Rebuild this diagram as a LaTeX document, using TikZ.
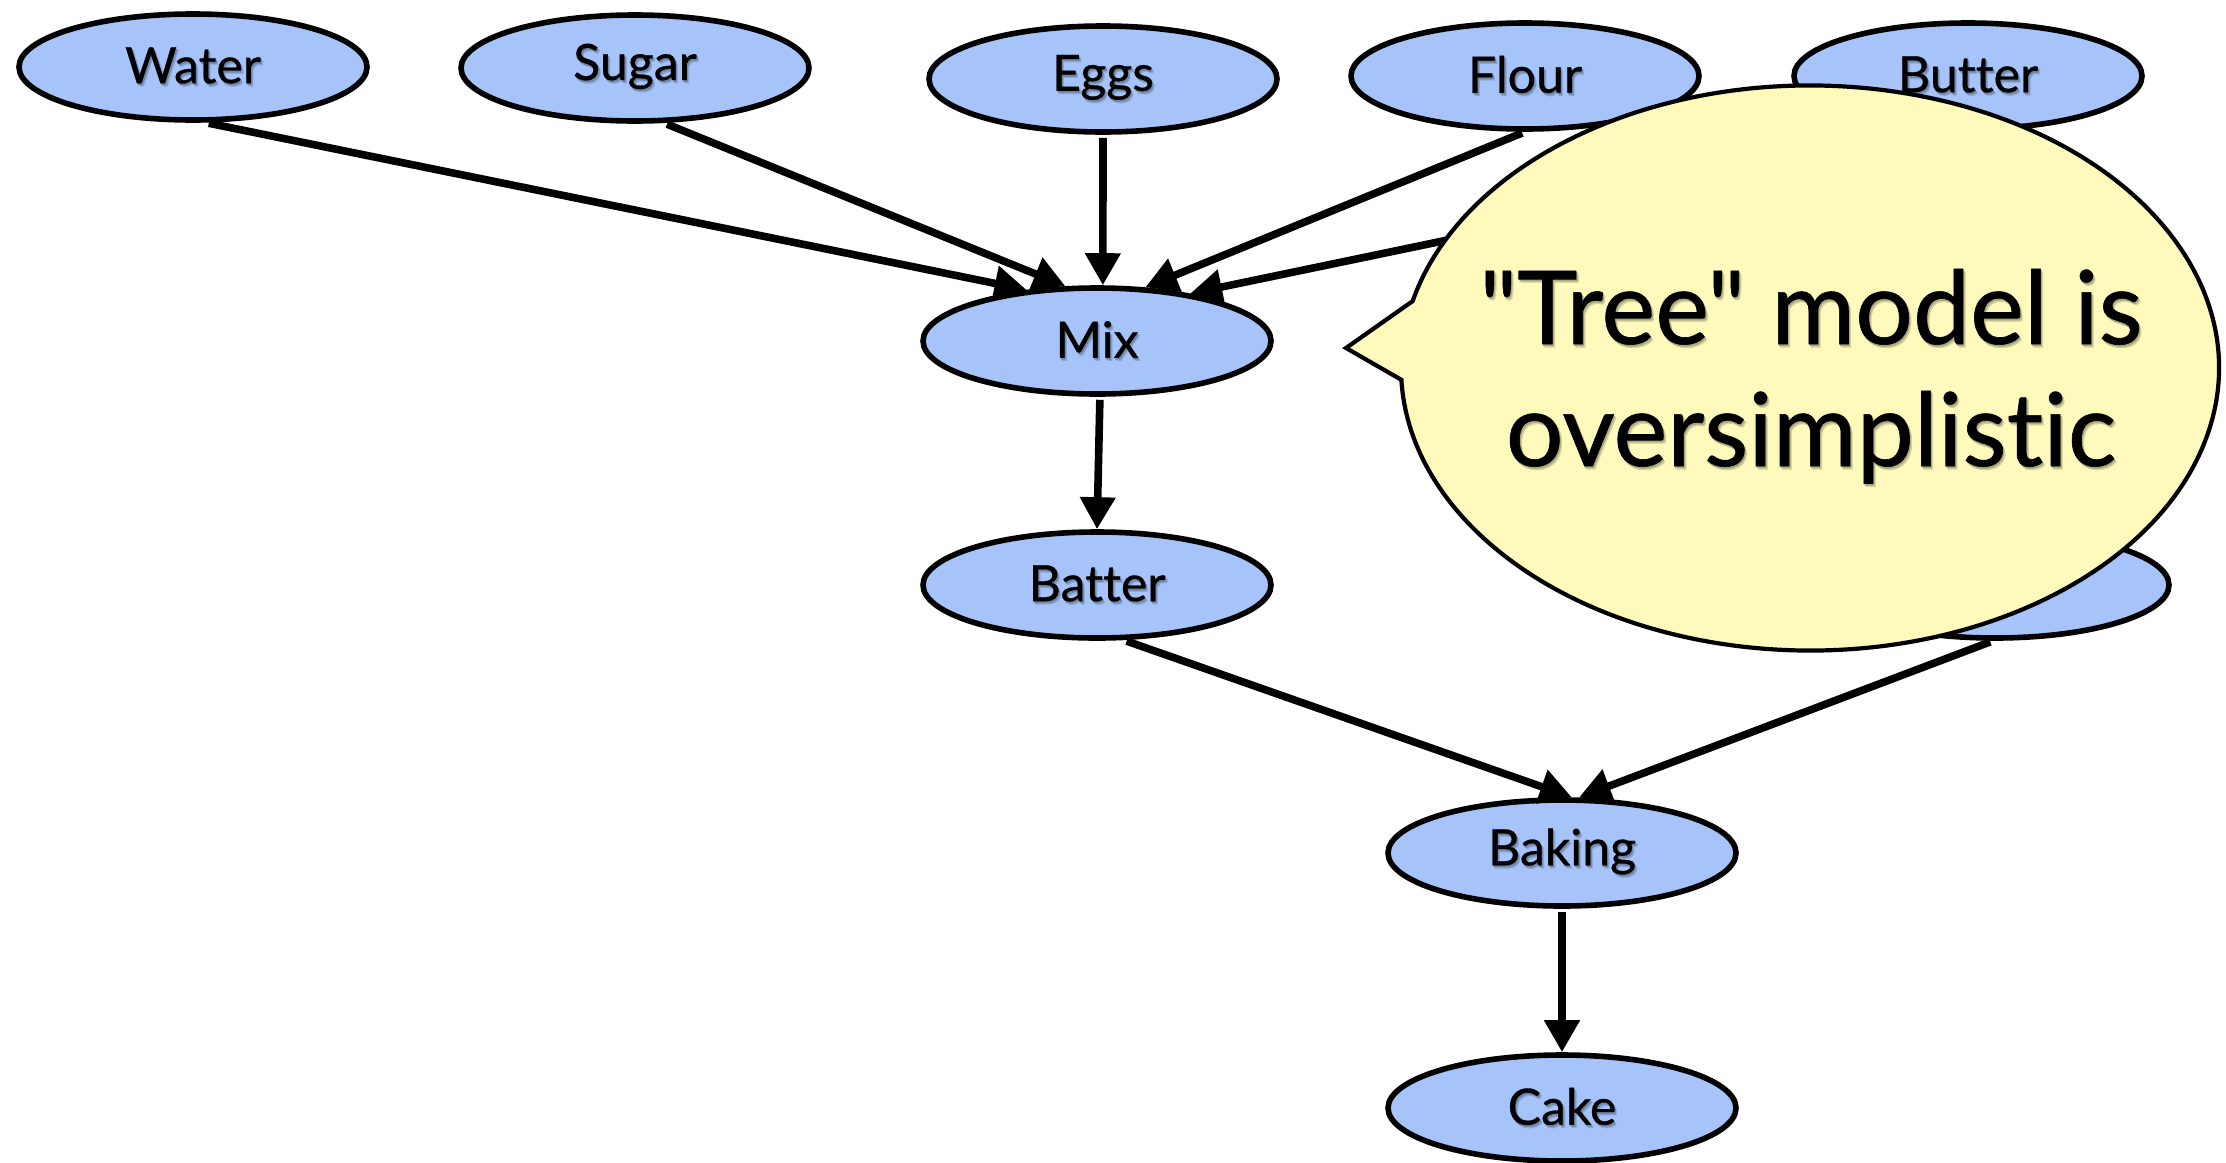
\documentclass[tikz,border=0pt]{standalone}
\usepackage{fontspec}
\setmainfont{Lato}[Ligatures={TeXOff,NoCommon},FakeBold=0.6]
\usetikzlibrary{shapes.geometric,arrows.meta,calc}

\definecolor{nodefill}{RGB}{166,196,249}
\definecolor{nodeshA}{RGB}{112,132,168}
\definecolor{nodeshB}{RGB}{140,164,208}
\definecolor{bubblefill}{RGB}{253,250,188}
\definecolor{bubshA}{RGB}{170,168,126}
\definecolor{bubshB}{RGB}{212,209,157}

% soft drop shadow behind a piece of text
\newcommand\shadowtext[3]{\leavevmode
  \rlap{\kern1.2pt\raisebox{-1.6pt}{\textcolor{#2}{#3}}}%
  \rlap{\kern0.6pt\raisebox{-0.9pt}{\textcolor{#1}{#3}}}%
  #3}
\newcommand\lbl[1]{\shadowtext{nodeshA}{nodeshB}{#1}}
\newcommand\bubtext[1]{\shadowtext{bubshA}{bubshB}{#1}}

\tikzset{
  stage/.style={ellipse, draw=black, line width=2.8pt, fill=nodefill,
    minimum width=174pt, minimum height=53pt, inner sep=0pt,
    font=\fontsize{25}{29}\selectfont},
  flow/.style={draw=black, line width=3.8pt,
    -{Triangle[length=16pt,width=17pt]}, shorten <=1.5pt},
  bubble/.style={draw=black, line width=2.1pt, fill=bubblefill},
  bubbleline/.style={font=\fontsize{51}{60}\selectfont, inner sep=0pt, anchor=base}
}

\begin{document}
\begin{tikzpicture}[x=0.5pt,y=-0.5pt]
\useasboundingbox (0,0) rectangle (2226,1162);

% ingredients
\node[stage] (water)  at (193,67)  {\lbl{Water}};
\node[stage] (sugar)  at (635,68)  {\lbl{Sugar}};
\node[stage] (eggs)   at (1103,79) {\lbl{Eggs}};
\node[stage] (flour)  at (1525,76) {\lbl{Flour}};
\node[stage] (butter) at (1968,76) {\lbl{Butter}};

% process
\node[stage] (mix)    at (1097,341) {\lbl{Mix}};
\node[stage] (batter) at (1097,585) {\lbl{Batter}};
\node[stage] (other)  at (1995,585) {};
\node[stage] (baking) at (1562,853) {\lbl{Baking}};
\node[stage] (cake)   at (1562,1108) {\lbl{Cake}};

% connectors
\draw[flow] (water.-77)  -- (mix.144);
\draw[flow] (sugar.-62)  -- (mix.120);
\draw[flow] (eggs.-90)   -- (mix.84);
\draw[flow] (flour.-90)  -- (mix.48);
\draw[flow] (butter.-90) -- (mix.27);
\draw[flow] (mix.-87)    -- (batter.90);
\draw[flow] (batter.-64) -- (baking.80);
\draw[flow] (other.-92)  -- (baking.73);
\draw[flow] (baking.-90) -- (cake.90);

% speech bubble (y axis points down, so angles run clockwise on the page)
\coordinate (bc) at (1810,368);
\coordinate (tip) at (1346,348);
\draw[bubble] ($(bc)+(193.7:409 and 282.5)$)
  arc[start angle=193.7, end angle=537.6, x radius=409, y radius=282.5]
  -- (tip) -- cycle;
\node[bubbleline] (bubA) at (1811,344) {\bubtext{"Tree" model is}};
\node[bubbleline] (bubB) at (1811,466) {\bubtext{oversimplistic}};
\end{tikzpicture}
\end{document}
